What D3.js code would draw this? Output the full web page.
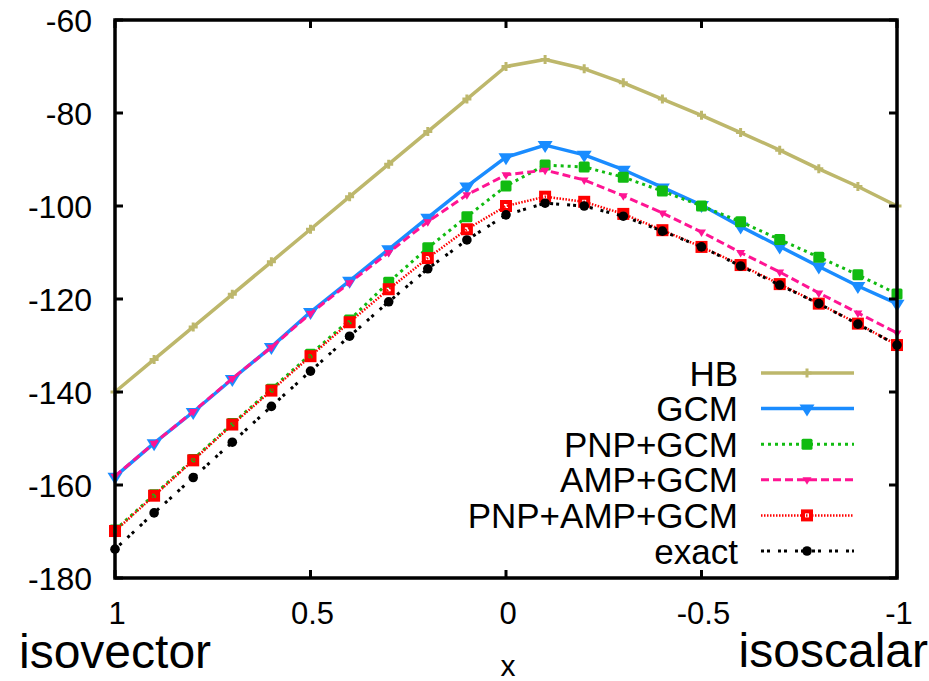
<!DOCTYPE html>
<html>
<head>
<meta charset="utf-8">
<script src="https://cdn.jsdelivr.net/npm/d3@7"></script>
<style>
  html, body { margin: 0; padding: 0; background: #fff; }
  svg text { font-family: "Liberation Sans", Arial, Helvetica, sans-serif; fill: #000; }
</style>
</head>
<body>
<svg id="chart" width="929" height="681"></svg>
<script>
// ---- data ----
const xValues = [1, 0.9, 0.8, 0.7, 0.6, 0.5, 0.4, 0.3, 0.2, 0.1, 0, -0.1, -0.2, -0.3, -0.4, -0.5, -0.6, -0.7, -0.8, -0.9, -1];
const hb      = [-140, -133, -126, -119, -112, -105, -98, -91, -84, -77, -70, -68.5, -70.5, -73.5, -77, -80.5, -84.2, -88, -92, -95.8, -100];
const gcm     = [-158.2, -151, -144.3, -137.2, -130.3, -122.8, -116.1, -109.3, -102.5, -95.8, -89.5, -86.9, -89, -92.2, -96, -99.8, -104.4, -108.7, -113, -117.2, -121];
const pnpGcm  = [-169.7, -162.1, -154.5, -146.8, -139.4, -131.9, -124.5, -116.4, -109, -102.3, -95.7, -91.2, -91.6, -93.8, -96.8, -100, -103.4, -107.2, -111, -114.8, -118.9];
const ampGcm  = [-158.1, -151, -144.2, -137.1, -130.4, -123.1, -116.5, -110, -103.4, -97.6, -93.3, -92.3, -94.4, -97.8, -101.5, -105.6, -110, -114.2, -118.7, -123, -127.3];
const pnpAmpGcm = [-169.9, -162.3, -154.7, -147, -139.7, -132.3, -125, -117.9, -111.2, -105, -100, -98, -99.1, -101.7, -105.2, -108.8, -112.7, -116.8, -121, -125.3, -129.9];
const exact   = [-173.8, -166, -158.4, -150.8, -143.1, -135.5, -128, -120.6, -113.5, -107.3, -101.9, -99.4, -100, -102.2, -105.4, -108.8, -112.9, -117, -121, -125.4, -129.9];
const seriesNames = ["HB", "GCM", "PNP+GCM", "AMP+GCM", "PNP+AMP+GCM", "exact"];
const xTicks = [1, 0.5, 0, -0.5, -1];
const xTickLabels = ["1", "0.5", "0", "-0.5", "-1"];
const yTicks = [-180, -160, -140, -120, -100, -80, -60];
const yTickLabels = ["-180", "-160", "-140", "-120", "-100", "-80", "-60"];

// ---- layout ----
const L = 115, R = 897, T = 20, B = 578;
const svg = d3.select("#chart");
const x = d3.scaleLinear().domain([1, -1]).range([L, R]);
const y = d3.scaleLinear().domain([-180, -60]).range([B, T]);

const styles = [
  { color: "#bdb76b", width: 3.5, dash: null, marker: "plus" },
  { color: "#1a8cff", width: 3.5, dash: null, marker: "tri" },
  { color: "#11bb11", width: 3, dash: "3,4", marker: "sq" },
  { color: "#ff1493", width: 3, dash: "8,4", marker: "smalltri" },
  { color: "#ff0000", width: 2.5, dash: "1.5,1.5", marker: "opensq" },
  { color: "#000000", width: 3, dash: "3,3,3,8", marker: "circle" }
];
const allData = [hb, gcm, pnpGcm, ampGcm, pnpAmpGcm, exact];

function drawMarker(g, type, color) {
  if (type === "plus") {
    g.append("path").attr("d", d3.symbol().type(d3.symbolCross).size(45)()).attr("fill", color);
  } else if (type === "tri") {
    g.append("path").attr("d", "M-7.5,-4 L7.5,-4 L0,8 Z").attr("fill", color);
  } else if (type === "smalltri") {
    g.append("path").attr("d", "M-4.5,-2.5 L4.5,-2.5 L0,5 Z").attr("fill", color);
  } else if (type === "sq") {
    g.append("rect").attr("x", -5.5).attr("y", -5.5).attr("width", 11).attr("height", 11).attr("rx", 1.5).attr("fill", color);
  } else if (type === "opensq") {
    g.append("rect").attr("x", -4).attr("y", -4).attr("width", 8).attr("height", 8)
      .attr("fill", "none").attr("stroke", color).attr("stroke-width", 4);
  } else if (type === "circle") {
    g.append("circle").attr("r", 4.8).attr("fill", color);
  }
}

// ---- series ----
const line = d3.line().x((d, i) => x(xValues[i])).y(d => y(d));
allData.forEach((vals, si) => {
  const st = styles[si];
  const g = svg.append("g");
  g.append("path").datum(vals).attr("d", line)
    .attr("fill", "none").attr("stroke", st.color).attr("stroke-width", st.width)
    .attr("stroke-dasharray", st.dash).attr("stroke-linejoin", "round");
  vals.forEach((v, i) => {
    const mg = g.append("g").attr("transform", `translate(${x(xValues[i])},${y(v)})`);
    drawMarker(mg, st.marker, st.color);
  });
});

// ---- frame & ticks ----
const axG = svg.append("g");
axG.append("rect").attr("x", L).attr("y", T).attr("width", R - L).attr("height", B - T)
  .attr("fill", "none").attr("stroke", "#000").attr("stroke-width", 3.5);
const tl = 8;
yTicks.forEach((t, i) => {
  axG.append("line").attr("x1", L).attr("x2", L + tl).attr("y1", y(t)).attr("y2", y(t)).attr("stroke", "#000").attr("stroke-width", 3);
  axG.append("line").attr("x1", R).attr("x2", R - tl).attr("y1", y(t)).attr("y2", y(t)).attr("stroke", "#000").attr("stroke-width", 3);
  axG.append("text").attr("x", 92).attr("y", y(t)).attr("dy", "0.36em").attr("text-anchor", "end")
    .attr("font-size", 32).text(yTickLabels[i]);
});
xTicks.forEach((t, i) => {
  axG.append("line").attr("x1", x(t)).attr("x2", x(t)).attr("y1", B).attr("y2", B - tl).attr("stroke", "#000").attr("stroke-width", 3);
  axG.append("line").attr("x1", x(t)).attr("x2", x(t)).attr("y1", T).attr("y2", T + tl).attr("stroke", "#000").attr("stroke-width", 3);
  axG.append("text").attr("x", x(t) + 2).attr("y", 624).attr("text-anchor", "middle")
    .attr("font-size", 31).text(xTickLabels[i]);
});

// axis labels
svg.append("text").attr("x", 19).attr("y", 668).attr("font-size", 48).text("isovector");
svg.append("text").attr("x", 928).attr("y", 667).attr("text-anchor", "end").attr("font-size", 48).text("isoscalar");
svg.append("text").attr("x", 508).attr("y", 676).attr("text-anchor", "middle").attr("font-size", 30).text("x");

// ---- legend ----
const lg = svg.append("g");
seriesNames.forEach((name, i) => {
  const ly = 373 + i * 35.6;
  const st = styles[i];
  lg.append("text").attr("x", 738).attr("y", ly).attr("dy", "0.36em").attr("text-anchor", "end")
    .attr("font-size", 35).text(name);
  lg.append("line").attr("x1", 761).attr("x2", 854).attr("y1", ly).attr("y2", ly)
    .attr("stroke", st.color).attr("stroke-width", st.width).attr("stroke-dasharray", st.dash);
  const mg = lg.append("g").attr("transform", `translate(807,${ly})`);
  drawMarker(mg, st.marker, st.color);
});
</script>
</body>
</html>
